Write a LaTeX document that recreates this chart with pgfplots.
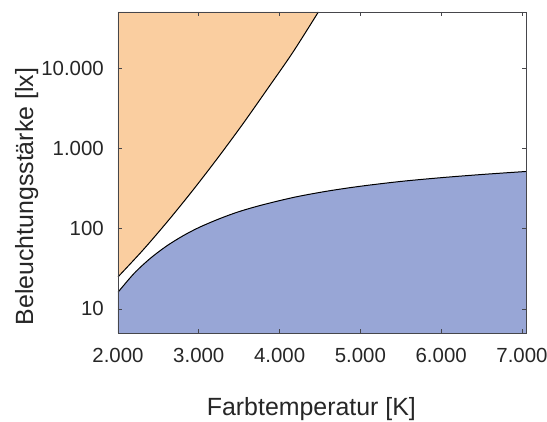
\documentclass[border=0pt]{standalone}
\usepackage{pgfplots}
\pgfplotsset{compat=1.18}
\usepackage{fontspec}
\setmainfont{Liberation Sans}
\definecolor{kwarm}{RGB}{250,206,160}
\definecolor{kcold}{RGB}{152,166,214}
\definecolor{frame}{RGB}{70,70,75}

\begin{document}
\begin{tikzpicture}
\begin{axis}[
    at={(118bp,89bp)}, anchor=south west,
    scale only axis, width=408bp, height=321bp,
    ymode=log,
    xmin=2000, xmax=7050, ymin=5, ymax=50000,
    xtick={2000,3000,4000,5000,6000,7000},
    xticklabels={2.000,3.000,4.000,5.000,6.000,7.000},
    ytick={10,100,1000,10000},
    yticklabels={10,100,1.000,10.000},
    minor tick num=0, log basis y=10,
    yminorticks=false,
    tick align=inside, major tick length=4bp,
    axis on top,
    axis line style={frame, line width=0.8pt},
    every tick/.style={frame, line width=0.6pt},
    tick label style={font=\fontsize{20.5}{22}\selectfont, text=black!85, inner sep=0pt},
    xticklabel style={anchor=base, yshift=-30bp},
    yticklabel style={anchor=east, xshift=-14bp},
    label style={font=\fontsize{25}{26}\selectfont, text=black!85},
    xlabel={Farbtemperatur [K]},
    ylabel={Beleuchtungsstärke [lx]},
    xlabel style={at={(axis description cs:0.474,-0.2555)}, anchor=base},
    ylabel style={at={(axis description cs:-0.2083,0.425)}, anchor=base, rotate=0},
]
% warm region above the upper boundary
\addplot[fill=kwarm, draw=none, smooth] coordinates {
    (2000,25) (2309,54) (2617,124) (2926,300) (3235,760) (3543,2000) (3852,5540) (4160,15500) (4480,50000)
} -- (axis cs:2000,50000) -- cycle;
\addplot[black, line width=1pt, smooth] coordinates {
    (2000,25) (2309,54) (2617,124) (2926,300) (3235,760) (3543,2000) (3852,5540) (4160,15500) (4480,50000)
};

% cold region below the lower boundary
\addplot[fill=kcold, draw=none, smooth] coordinates {
    (2000,16.1) (2200,27.7) (2400,42.6) (2600,60.5) (2800,80.8) (3000,103) (3250,132)
    (3500,163) (3800,199) (4200,248) (4600,294) (5000,337) (5500,387) (6000,431)
    (6500,472) (7050,515)
} -- (axis cs:7050,5) -- (axis cs:2000,5) -- cycle;
\addplot[black, line width=1pt, smooth] coordinates {
    (2000,16.1) (2200,27.7) (2400,42.6) (2600,60.5) (2800,80.8) (3000,103) (3250,132)
    (3500,163) (3800,199) (4200,248) (4600,294) (5000,337) (5500,387) (6000,431)
    (6500,472) (7050,515)
};
\end{axis}
\pgfresetboundingbox
\path (0,0) rectangle (547bp,422bp);
\end{tikzpicture}
\end{document}
